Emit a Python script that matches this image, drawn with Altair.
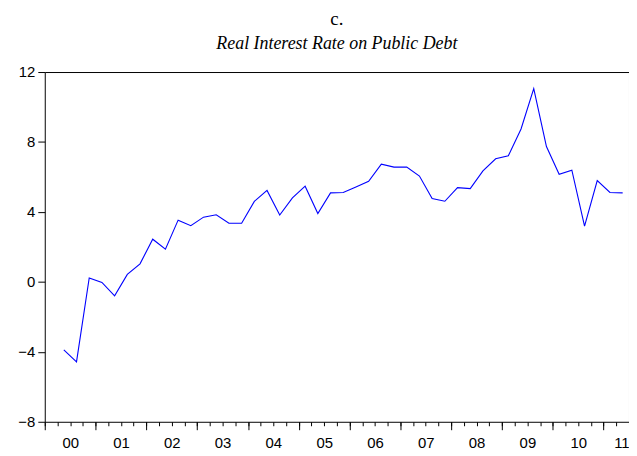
import altair as alt
import pandas as pd

periods = ["2000Q2", "2000Q3", "2000Q4",
           "2001Q1", "2001Q2", "2001Q3", "2001Q4",
           "2002Q1", "2002Q2", "2002Q3", "2002Q4",
           "2003Q1", "2003Q2", "2003Q3", "2003Q4",
           "2004Q1", "2004Q2", "2004Q3", "2004Q4",
           "2005Q1", "2005Q2", "2005Q3", "2005Q4",
           "2006Q1", "2006Q2", "2006Q3", "2006Q4",
           "2007Q1", "2007Q2", "2007Q3", "2007Q4",
           "2008Q1", "2008Q2", "2008Q3", "2008Q4",
           "2009Q1", "2009Q2", "2009Q3", "2009Q4",
           "2010Q1", "2010Q2", "2010Q3", "2010Q4",
           "2011Q1", "2011Q2"]
rate = [-3.89, -4.57, 0.22,
        -0.03, -0.80, 0.43, 1.03,
        2.44, 1.87, 3.53, 3.21,
        3.70, 3.84, 3.35, 3.35,
        4.60, 5.23, 3.82, 4.80,
        5.47, 3.91, 5.09, 5.11,
        5.43, 5.75, 6.73, 6.56,
        6.56, 6.05, 4.77, 4.61,
        5.39, 5.33, 6.35, 7.04,
        7.21, 8.74, 11.05, 7.74,
        6.15, 6.39, 3.19, 5.79,
        5.11, 5.09]
year_labels = ["00", "01", "02", "03", "04", "05", "06", "07", "08", "09", "10", "11"]
y_ticks = [-8, -4, 0, 4, 8, 12]

first_year = 2000
n_slots = 46  # 2000Q1 .. 2011Q2

df = pd.DataFrame({"period": periods, "rate": rate})
df["pos"] = df["period"].apply(lambda p: (int(p[:4]) - first_year) * 4 + int(p[5]) - 1 + 0.5)

xscale = alt.Scale(domain=[0, n_slots], nice=False, zero=False)
font = "Liberation Sans"

label_pos = [i * 4 + 2 for i in range(len(year_labels) - 1)] + [45.4]
label_arr = "[" + ",".join("'%s'" % s for s in year_labels) + "]"

base = alt.Chart(df)

line = base.mark_line(color="#0000FF", strokeWidth=1.1).encode(
    x=alt.X("pos:Q", scale=xscale, title=None,
            axis=alt.Axis(orient="bottom", values=list(range(0, n_slots + 1)), tickSize=4,
                          labels=False, domain=False, grid=False, tickColor="black", tickWidth=1)),
    y=alt.Y("rate:Q", scale=alt.Scale(domain=[-8, 12], nice=False, zero=False), title=None,
            axis=alt.Axis(values=y_ticks, tickSize=7, tickColor="black", domain=False, grid=False,
                          labelFont=font, labelFontSize=15, labelColor="black", labelPadding=3)),
)

major = base.mark_point(opacity=0).encode(
    x=alt.X("pos:Q", scale=xscale, title=None,
            axis=alt.Axis(orient="bottom", values=list(range(0, n_slots + 1, 4)), tickSize=8,
                          labels=False, domain=False, grid=False, tickColor="black", tickWidth=1)),
)

labels = base.mark_point(opacity=0).encode(
    x=alt.X("pos:Q", scale=xscale, title=None,
            axis=alt.Axis(orient="bottom", values=label_pos, ticks=False, tickSize=0,
                          domain=False, grid=False, labelFont=font, labelFontSize=15,
                          labelColor="black", labelPadding=14, labelOverlap=False,
                          labelExpr=label_arr + "[floor(datum.value / 4)]")),
)

chart = alt.layer(line, major, labels).resolve_axis(x="independent").properties(
    width=588, height=352,
    autosize=alt.AutoSizeParams(type="none"),
    padding={"left": 37, "top": 63, "right": 0, "bottom": 31},
    title=alt.TitleParams(text="c.", subtitle="Real Interest Rate on Public Debt",
                          font="Liberation Serif", fontSize=19, fontWeight="normal", color="black",
                          subtitleFont="Liberation Serif", subtitleFontSize=18,
                          subtitleFontStyle="italic", subtitleColor="black",
                          anchor="middle", offset=12, subtitlePadding=6),
).configure_view(stroke="black", strokeWidth=1)

chart.save("out.html", embed_options={"renderer": "svg", "actions": False})
